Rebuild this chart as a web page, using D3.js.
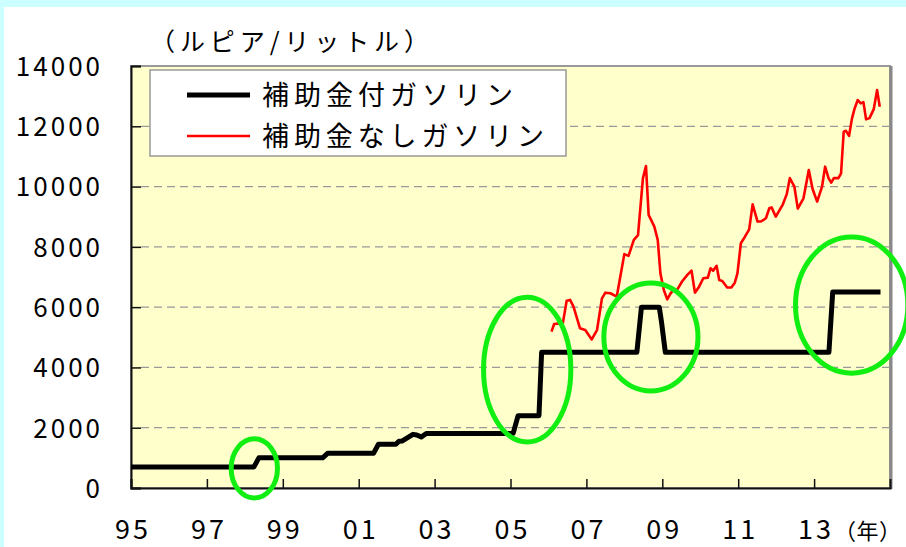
<!DOCTYPE html>
<html>
<head>
<meta charset="utf-8">
<script src="https://cdn.jsdelivr.net/npm/d3@7"></script>
<style>
  body { margin: 0; background: #ccffff; }
  svg { display: block; }
  text { font-family: "Noto Sans CJK JP", "Noto Sans", sans-serif; fill: #000; }
</style>
</head>
<body>
<svg id="chart" width="906" height="547"></svg>
<script>
// y axis ticks
var yTicks = [0, 2000, 4000, 6000, 8000, 10000, 12000, 14000];
// x axis years (labels shown as 2 digits)
var xTicks = [1995, 1997, 1999, 2001, 2003, 2005, 2007, 2009, 2011, 2013];

// subsidized gasoline (rupiah / litre), corners of the step line
var subsidized = [
    [1995.00, 700], [1998.24, 700], [1998.37, 1000], [2000.05, 1000], [2000.18, 1150],
    [2001.39, 1150], [2001.52, 1450], [2001.98, 1450], [2002.06, 1550], [2002.15, 1560],
    [2002.43, 1780], [2002.53, 1760], [2002.65, 1690], [2002.78, 1810], [2005.07, 1810],
    [2005.20, 2400], [2005.75, 2400], [2005.82, 4500], [2008.33, 4500], [2008.45, 6000],
    [2008.92, 6000], [2008.98, 5500], [2009.08, 4500], [2013.39, 4500], [2013.49, 6500],
    [2014.75, 6500]
];

// non-subsidized gasoline
var market = [
    [2006.08, 5190], [2006.15, 5440], [2006.38, 5470], [2006.48, 6210], [2006.57, 6240],
    [2006.66, 6020], [2006.83, 5300], [2006.97, 5240], [2007.14, 4930], [2007.28, 5240],
    [2007.41, 6290], [2007.50, 6480], [2007.63, 6460], [2007.80, 6350], [2008.00, 7760],
    [2008.11, 7700], [2008.25, 8230], [2008.36, 8390], [2008.49, 10280], [2008.57, 10680],
    [2008.64, 9060], [2008.79, 8670], [2008.88, 8230], [2008.95, 7120], [2009.04, 6570],
    [2009.13, 6260], [2009.21, 6440], [2009.30, 6590], [2009.39, 6570], [2009.52, 6850],
    [2009.66, 7070], [2009.77, 7210], [2009.86, 6480], [2009.97, 6680], [2010.08, 6960],
    [2010.20, 6980], [2010.27, 7290], [2010.34, 7210], [2010.43, 7370], [2010.50, 6900],
    [2010.58, 6870], [2010.71, 6650], [2010.82, 6650], [2010.91, 6810], [2010.98, 7120],
    [2011.07, 8120], [2011.17, 8320], [2011.29, 8580], [2011.38, 9410], [2011.51, 8840],
    [2011.60, 8840], [2011.73, 8950], [2011.82, 9280], [2011.88, 9310], [2011.99, 9000],
    [2012.17, 9390], [2012.28, 9750], [2012.36, 10280], [2012.48, 10000], [2012.57, 9270],
    [2012.72, 9610], [2012.86, 10550], [2012.96, 9920], [2013.08, 9500], [2013.21, 10000],
    [2013.29, 10660], [2013.38, 10280], [2013.45, 10130], [2013.52, 10280], [2013.64, 10280],
    [2013.71, 10440], [2013.78, 11820], [2013.84, 11850], [2013.92, 11680], [2014.00, 12270],
    [2014.07, 12600], [2014.15, 12870], [2014.23, 12760], [2014.30, 12800], [2014.37, 12230],
    [2014.46, 12270], [2014.57, 12560], [2014.66, 13200], [2014.73, 12650]
];

// green annotation ellipses: centre (year, value), radius (years, value)
var highlights = [
    [1998.25, 650, 0.61, 980],
    [2005.44, 3930, 1.15, 2400],
    [2008.70, 5010, 1.24, 1790],
    [2013.99, 6070, 1.48, 2260]
];

var legendLabels = ["補助金付ガソリン", "補助金なしガソリン"];

var svg = d3.select("#chart");

// white panel over the cyan page
svg.append("rect").attr("x", 4).attr("y", 7).attr("width", 902).attr("height", 540).attr("fill", "#fff");

var x = d3.scaleLinear().domain([1995, 2015]).range([131, 890]);
var y = d3.scaleLinear().domain([0, 14000]).range([488, 66]);

// plot background + border
svg.append("rect")
    .attr("x", x(1995)).attr("y", y(14000))
    .attr("width", x(2015) - x(1995)).attr("height", y(0) - y(14000))
    .attr("fill", "#ffffcc")
    .attr("stroke", "#999").attr("stroke-width", 2);
svg.append("line")
    .attr("x1", x(2015) + 1).attr("x2", x(2015) + 1)
    .attr("y1", y(14000)).attr("y2", y(0) + 1)
    .attr("stroke", "#888").attr("stroke-width", 3);

// dashed gridlines
svg.append("g").selectAll("line")
    .data(yTicks.filter(function (d) { return d > 0 && d < 14000; }))
    .enter().append("line")
    .attr("x1", x(1995) + 10).attr("x2", x(2015))
    .attr("y1", function (d) { return y(d); })
    .attr("y2", function (d) { return y(d); })
    .attr("stroke", "#999").attr("stroke-width", 1.2)
    .attr("stroke-dasharray", "8,5");

// y axis
var yAxis = svg.append("g")
    .attr("transform", "translate(" + x(1995) + ",0)")
    .call(d3.axisLeft(y).tickValues(yTicks).tickSize(-10).tickPadding(31)
        .tickFormat(d3.format("d")));
yAxis.select(".domain").attr("stroke", "#111").attr("stroke-width", 2);
yAxis.selectAll(".tick line").attr("stroke", "#111").attr("stroke-width", 1.5);
yAxis.selectAll(".tick text")
    .attr("font-size", 26).attr("letter-spacing", "3px")
    .attr("font-family", "Noto Sans CJK JP").attr("fill", "#000")
    .attr("dx", 3).attr("dy", "0.36em");

// x axis
var xAxis = svg.append("g")
    .attr("transform", "translate(0," + y(0) + ")")
    .call(d3.axisBottom(x).tickValues(xTicks).tickSize(-9).tickPadding(32)
        .tickFormat(function (d) { return String(d).slice(2); }));
xAxis.select(".domain").attr("stroke", "#111").attr("stroke-width", 2);
xAxis.selectAll(".tick text")
    .attr("font-size", 27).attr("letter-spacing", "3px")
    .attr("font-family", "Noto Sans CJK JP").attr("fill", "#000")
    .attr("dx", 1.5);
xAxis.selectAll(".tick line").attr("stroke", "#111").attr("stroke-width", 1.5);

svg.append("text")
    .attr("x", 834).attr("y", 539)
    .attr("font-size", 22)
    .attr("textLength", 67).attr("lengthAdjust", "spacing")
    .text("（年）");

// unit label
svg.append("text")
    .attr("x", 150).attr("y", 51)
    .attr("font-size", 25)
    .attr("textLength", 279).attr("lengthAdjust", "spacing")
    .text("（ルピア/リットル）");

// lines
var line = d3.line()
    .x(function (d) { return x(d[0]); })
    .y(function (d) { return y(d[1]); });

svg.append("path")
    .datum(market)
    .attr("fill", "none")
    .attr("stroke", "#ff0000")
    .attr("stroke-width", 2.6)
    .attr("stroke-linejoin", "round")
    .attr("d", line);

svg.append("path")
    .datum(subsidized)
    .attr("fill", "none")
    .attr("stroke", "#000")
    .attr("stroke-width", 5)
    .attr("stroke-linejoin", "round")
    .attr("d", line);

// legend
var legend = svg.append("g").attr("id", "legend");
legend.append("rect")
    .attr("x", 150).attr("y", 70).attr("width", 416).attr("height", 86)
    .attr("fill", "#fff").attr("stroke", "#999").attr("stroke-width", 1.5);
var legendStyles = [["#000", 5], ["#ff0000", 2.6]];
legend.selectAll(".item")
    .data(legendLabels)
    .enter().append("g")
    .attr("class", "item")
    .attr("transform", function (d, i) { return "translate(0," + (95 + i * 41) + ")"; })
    .each(function (d, i) {
        var g = d3.select(this);
        g.append("line")
            .attr("x1", 187).attr("x2", 250)
            .attr("stroke", legendStyles[i][0])
            .attr("stroke-width", legendStyles[i][1]);
        g.append("text")
            .attr("x", 262).attr("y", 10)
            .attr("font-size", 27)
            .attr("textLength", i === 0 ? 251 : 282).attr("lengthAdjust", "spacing")
            .text(d);
    });

// green highlight ellipses
svg.append("g").selectAll("ellipse")
    .data(highlights)
    .enter().append("ellipse")
    .attr("cx", function (d) { return x(d[0]); })
    .attr("cy", function (d) { return y(d[1]); })
    .attr("rx", function (d) { return x(d[0] + d[2]) - x(d[0]); })
    .attr("ry", function (d) { return y(0) - y(d[3]); })
    .attr("fill", "none")
    .attr("stroke", "#11ee11")
    .attr("stroke-width", 5);
</script>
</body>
</html>
